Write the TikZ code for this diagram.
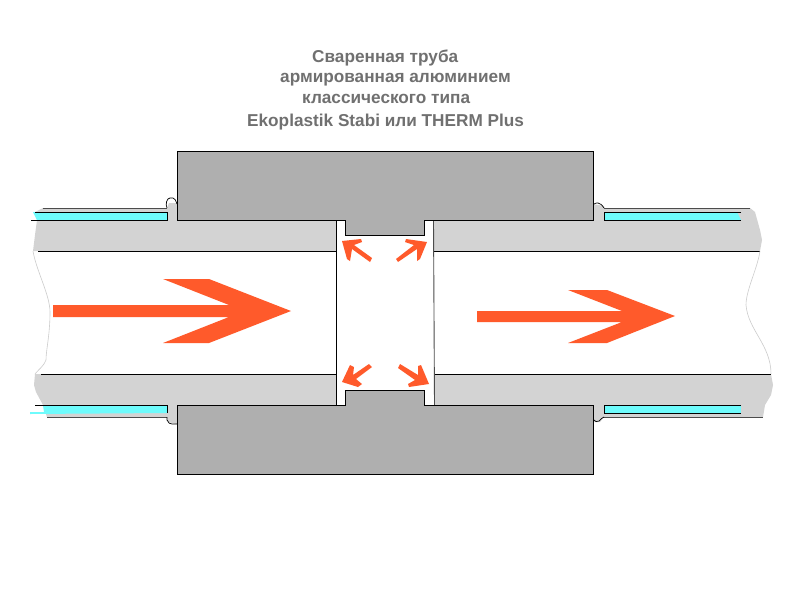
\documentclass[tikz,border=0pt]{standalone}
\usepackage{fontspec}
\setmainfont{Liberation Sans}
\definecolor{pipegray}{HTML}{D3D3D3}
\definecolor{blockgray}{HTML}{AFAFAF}
\definecolor{aqua}{HTML}{6EFBFC}
\definecolor{flow}{HTML}{FF5A2B}
\definecolor{titlegray}{HTML}{707070}
\tikzset{
  pipe/.style={fill=pipegray,draw=none},
  block/.style={fill=blockgray,draw=black,line width=0.9pt,line join=miter},
  liner/.style={fill=aqua,draw=none},
  edge/.style={draw=black,line width=0.9pt},
  softedge/.style={draw=black!70,line width=0.9pt},
  cut/.style={draw=black!20,line width=0.6pt},
  arrowfill/.style={fill=flow,draw=none},
  title/.style={anchor=base west,text=titlegray,font=\fontsize{17.2}{17.2}\selectfont\bfseries,inner sep=0pt}
}
\begin{document}
\begin{tikzpicture}[x=1pt,y=-1pt]
\useasboundingbox (0,0) rectangle (800,600);
\fill[white] (0,0) rectangle (800,600);
% pipe walls
\path[pipe] (43,208) -- (167,208) -- (169,203) -- (177,203) -- (177,221) -- (336,221) -- (336,251) -- (38,251) -- (33,251) -- (35,235) -- (37,220) -- (35,212) -- cycle;
\path[pipe] (433,221) -- (593,221) -- (593,204) -- (604,206) -- (604,208) -- (750,208) -- (755,212) -- (760,230) -- (762,240) -- (760,251) -- (433,251) -- cycle;
\path[pipe] (35,374) -- (336,374) -- (336,405) -- (177,405) -- (177,424) -- (168,422) -- (167,417) -- (47,417) -- (43,405) -- (36,392) -- (34,385) -- cycle;
\path[pipe] (434,374) -- (771,374) -- (773,385) -- (771,395) -- (765,405) -- (763,417) -- (604,417) -- (600,422) -- (594,422) -- (593,405) -- (434,405) -- cycle;
% aluminium layer
\path[liner] (33,212) -- (167,212) -- (167,220) -- (37,220) -- cycle;
\path[liner] (604,212) -- (737,212) -- (741,220) -- (604,220) -- cycle;
\path[liner] (43,405) -- (167,405) -- (167,413) -- (30,414) -- (30,412) -- (44,412) -- cycle;
\path[liner] (604,405) -- (741,405) -- (741,413) -- (604,413) -- cycle;
% layer outlines
\draw[softedge] (43,208) -- (167,208);
\draw[edge] (35,212) -- (167,212) -- (167,220.5) -- (31,220.5);
\draw[edge] (35,405) -- (167,405) -- (167,413);
\draw[softedge] (604,208) -- (750,208);
\draw[edge] (741,212) -- (604,212) -- (604,220.5) -- (741,220.5);
\draw[edge] (741,405) -- (604,405) -- (604,413) -- (741,413);
\draw[softedge] (47,417) -- (167,417);
\draw[softedge] (604,417) -- (763,417);
% bead contours
\draw[edge,line width=0.7pt] (167,208) .. controls (165,204) and (167,198) .. (170,198) -- (173,198) .. controls (175,198) and (176,201) .. (177,204);
\draw[edge,line width=0.7pt] (594,204) .. controls (595,203) and (597,203) .. (598,203) .. controls (600,203) and (602,205) .. (604,208);
\draw[edge,line width=0.7pt] (167,417) -- (167,420) .. controls (168,423) and (170,424) .. (172,424) -- (177,424);
\draw[edge,line width=0.7pt] (594,420) .. controls (595,422) and (597,422) .. (599,421) .. controls (601,419) and (602,418) .. (604,417);
% bore lines
\draw[edge] (38,251) -- (336,251);
\draw[edge] (433,251) -- (760,251);
\draw[edge] (41,374) -- (336,374);
\draw[edge] (434,374) -- (771,374);
\draw[edge] (336.5,221) -- (336.5,405);
\draw[softedge] (433.5,221) -- (434.5,405);
% cut ends of the bore
\draw[cut] (33,251) .. controls (36,270) and (50,295) .. (50,312) .. controls (50,335) and (46,350) .. (46,360) .. controls (44,366) and (38,370) .. (35,374);
\draw[cut] (760,251) .. controls (757,270) and (746,290) .. (746,305) .. controls (748,330) and (771,345) .. (771,374);
% fittings
\draw[block] (177,151) -- (593,151) -- (593,220.5) -- (424,220.5) -- (424,235) -- (345,235) -- (345,220.5) -- (177,220.5) -- cycle;
\draw[block] (177,474) -- (593,474) -- (593,405) -- (424,405) -- (424,390) -- (345,390) -- (345,405) -- (177,405) -- cycle;
% flow arrows
\path[arrowfill] (53,305) -- (229,305) -- (163,279) -- (209,279) -- (291,311) -- (209,343) -- (163,343) -- (229,317) -- (53,317) -- cycle;
\path[arrowfill] (477,311) -- (622,311) -- (568,290) -- (607,290) -- (675,316) -- (607,343) -- (568,343) -- (622,322) -- (477,322) -- cycle;
\path[arrowfill] (342,241) -- (361,239) -- (362,242) -- (354,245) -- (372,258) -- (370,262) -- (352,249) -- (350,261) -- (347,259) -- cycle;
\path[arrowfill] (427,242) -- (406,239) -- (405,242) -- (414,245) -- (396,259) -- (398,262) -- (417,249) -- (417,261) -- (420,259) -- cycle;
\path[arrowfill] (342,382) -- (350,365) -- (354,367) -- (353,375) -- (369,364) -- (372,367) -- (356,379) -- (362,384) -- (358,387) -- cycle;
\path[arrowfill] (429,384) -- (409,387) -- (408,384) -- (415,380) -- (398,368) -- (400,364) -- (418,375) -- (418,366) -- (421,365) -- cycle;
% title
\node[title] (t1) at (312,62) {Сваренная труба};
\node[title] (t2) at (280,82.5) {армированная алюминием};
\node[title] (t3) at (302,103) {классического типа};
\node[title] (t4) at (247,126) {Ekoplastik Stabi или THERM Plus};
\end{tikzpicture}
\end{document}
